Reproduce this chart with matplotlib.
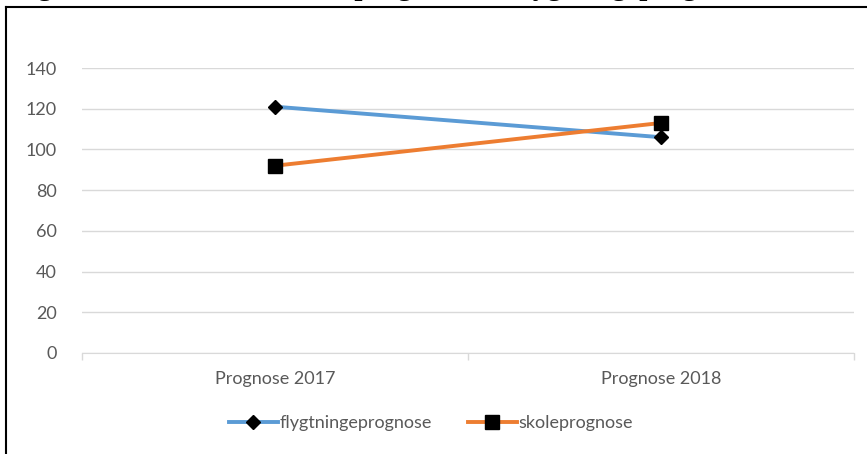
import matplotlib.pyplot as plt
from matplotlib.lines import Line2D

categories = ["Prognose 2017", "Prognose 2018"]
flygtning = [121, 106]
skole = [92, 113]
yticks = [0, 20, 40, 60, 80, 100, 120, 140]

plt.rcParams["font.family"] = ["Lato", "DejaVu Sans"]

fig = plt.figure(figsize=(8.67, 4.54), dpi=100)
ax = fig.add_axes([0.0946, 0.2225, 0.8904, 0.6277])

x = range(len(categories))
ax.plot(x, flygtning, color="#5B9BD5", lw=2.8, marker="D", ms=7,
        mfc="black", mec="black", label="flygtningeprognose", zorder=3)
ax.plot(x, skole, color="#ED7D31", lw=2.8, marker="s", ms=10,
        mfc="black", mec="black", label="skoleprognose", zorder=3)

ax.set_xlim(-0.5, 1.5)
ax.set_ylim(0, 140)
ax.set_yticks(yticks)
ax.set_xticks(list(x))
ax.set_xticklabels(categories)
ax.set_xticks([-0.5, 0, 0.5, 1, 1.5], minor=True)
ax.tick_params(axis="y", length=0, pad=18, labelsize=13, labelcolor="#595959")
ax.tick_params(axis="x", which="major", length=0, pad=13, labelsize=13,
               labelcolor="#595959")
ax.tick_params(axis="x", which="minor", length=5, color="#d9d9d9", width=1)
ax.grid(axis="y", color="#d9d9d9", lw=1)
ax.set_axisbelow(True)
for side in ["top", "right", "left"]:
    ax.spines[side].set_visible(False)
ax.spines["bottom"].set_color("#d9d9d9")

fig.legend(loc="center", bbox_to_anchor=(0.497, 1 - 423 / 454), ncol=2,
           frameon=False, fontsize=13, labelcolor="#595959",
           handlelength=2.7, handletextpad=0.1, columnspacing=2.0)

# chart border (top and left edges visible in the crop)
fig.add_artist(Line2D([6 / 867, 1], [1 - 7 / 454, 1 - 7 / 454],
                      transform=fig.transFigure, color="black", lw=1.5))
fig.add_artist(Line2D([6 / 867, 6 / 867], [0, 1 - 7 / 454],
                      transform=fig.transFigure, color="black", lw=1.5))

# title of the page, mostly cut off at the top (only descenders show)
fig.text(12 / 867, 1 + 5 / 454,
         "Figur 4: Antal elever i skoleprognose vs. flygtningeprognose",
         family="Liberation Serif", weight="bold", fontsize=21, va="baseline")

fig.savefig("out.png", dpi=100)
